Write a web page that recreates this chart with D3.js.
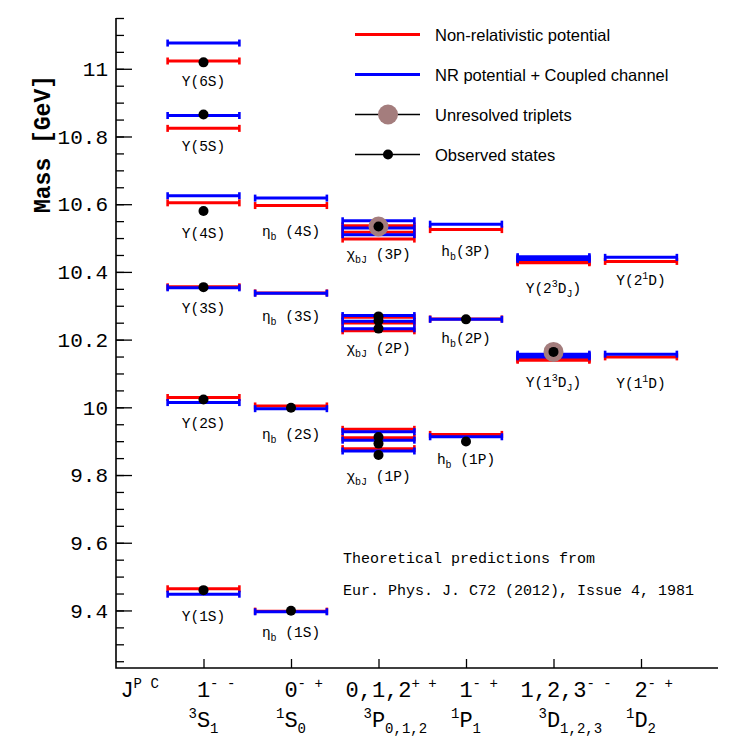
<!DOCTYPE html>
<html>
<head>
<meta charset="utf-8">
<script src="https://cdn.jsdelivr.net/npm/d3@7"></script>
<style>
  body { margin: 0; background: #fff; }
  svg text { white-space: pre; }
</style>
</head>
<body>
<script>
// bottomonium levels, masses in GeV
var stateNames = ["Υ(6S)", "Υ(5S)", "Υ(4S)", "Υ(3S)", "Υ(2S)", "Υ(1S)",
    "η_{b} (4S)", "η_{b} (3S)", "η_{b} (2S)", "η_{b} (1S)",
    "χ_{bJ} (3P)", "χ_{bJ} (2P)", "χ_{bJ} (1P)",
    "h_{b}(3P)", "h_{b}(2P)", "h_{b} (1P)",
    "Υ(2^{3}D_{J})", "Υ(2^{1}D)", "Υ(1^{3}D_{J})", "Υ(1^{1}D)"];
var stateColumn = [1, 1, 1, 1, 1, 1, 2, 2, 2, 2, 3, 3, 3, 4, 4, 4, 5, 6, 5, 6];

// Non-relativistic potential
var nrMass = [[11.023], [10.824], [10.604], [10.356], [10.029], [9.464],
    [10.596], [10.338], [10.004], [9.398],
    [10.497, 10.517, 10.536], [10.226, 10.249, 10.266], [9.878, 9.910, 9.935],
    [10.525], [10.261], [9.920],
    [10.427, 10.429, 10.432], [10.431], [10.139, 10.142, 10.145], [10.149]];
// NR potential + coupled channel
var ccMass = [[11.076], [10.862], [10.625], [10.353], [10.014], [9.448],
    [10.618], [10.337], [9.996], [9.396],
    [10.510, 10.530, 10.551], [10.232, 10.254, 10.271], [9.871, 9.903, 9.928],
    [10.541], [10.260], [9.913],
    [10.437, 10.441, 10.445], [10.443], [10.149, 10.153, 10.157], [10.157]];
// observed states
var obsMass = [[11.019], [10.865], [10.580], [10.355], [10.023], [9.460],
    [], [], [9.999], [9.399],
    [10.534], [10.2325, 10.2555, 10.2686], [9.8594, 9.8928, 9.9122],
    [], [10.2598], [9.899],
    [], [], [10.1637], []];
// unresolved triplets
var unresolvedMass = [null, null, null, null, null, null, null, null, null, null,
    10.534, null, null, null, null, null, null, null, 10.1637, null];
// where the state name sits (GeV)
var labelMass = [10.962, 10.769, 10.512, 10.290, 9.950, 9.382,
    10.518, 10.266, 9.917, 9.334,
    10.450, 10.172, 9.793,
    10.459, 10.201, 9.843,
    10.349, 10.373, 10.071, 10.068];

var jpcBase = ["J", "1", "0", "0,1,2", "1", "1,2,3", "2"];
var jpcSup = ["P C", "- -", "- +", "+ +", "- +", "- -", "- +"];
var waveSup = ["3", "1", "3", "1", "3", "1"];
var waveBase = ["S", "S", "P", "P", "D", "D"];
var waveSub = ["1", "0", "0,1,2", "1", "1,2,3", "2"];

var yMajor = [9.4, 9.6, 9.8, 10, 10.2, 10.4, 10.6, 10.8, 11];

var legendText = ["Non-relativistic potential", "NR potential + Coupled channel",
    "Unresolved triplets", "Observed states"];

var W = 734, H = 739;
var margin = {top: 18, right: 16, bottom: 71, left: 116};
var width = W - margin.left - margin.right,
    height = H - margin.top - margin.bottom;

var mono = "'Liberation Mono', 'DejaVu Sans Mono', monospace";
var sans = "'Liberation Sans', Arial, sans-serif";

var svg = d3.select("body").append("svg")
    .attr("width", W)
    .attr("height", H);
svg.append("rect").attr("width", W).attr("height", H).attr("fill", "#fff");

var g = svg.append("g")
    .attr("transform", "translate(" + margin.left + "," + margin.top + ")");

var x = d3.scaleLinear().domain([0, 6.88]).range([0, width]);
var y = d3.scaleLinear().domain([9.23, 11.15]).range([height, 0]);

// text with ^{} and _{} like ROOT's TLatex
function rich(sel, str, size, small, up, down) {
    var re = /([\^_])\{([^}]*)\}|([^\^_]+)/g, m, cur = 0;
    while ((m = re.exec(str)) !== null) {
        var t = 0, txt = m[3], fs = size;
        if (m[1]) {
            t = m[1] == "^" ? -up : down;
            txt = m[2];
            fs = small;
        }
        sel.append("tspan")
            .attr("dy", t - cur)
            .attr("font-size", fs)
            .text(txt);
        cur = t;
    }
    return sel;
}

// minor ticks
var minor = d3.range(9.25, 11.16, 0.05).map(function (d) { return +d.toFixed(2); });
g.append("g")
    .call(d3.axisLeft(y).tickValues(minor).tickSize(-8).tickFormat(""))
    .call(function (a) { a.select(".domain").remove(); })
    .selectAll("line").attr("stroke-width", 1.3);

g.append("g")
    .call(d3.axisLeft(y).tickValues(yMajor).tickSize(-16).tickPadding(8)
        .tickFormat(function (d) { return +d.toFixed(1) + ""; }))
    .call(function (a) { a.select(".domain").remove(); })
    .call(function (a) {
        a.selectAll("line").attr("stroke-width", 1.3);
        a.selectAll("text")
            .attr("font-family", mono)
            .attr("font-size", 21)
            .attr("fill", "#000");
    });

g.append("g")
    .attr("transform", "translate(0," + height + ")")
    .call(d3.axisBottom(x).tickValues([1, 2, 3, 4, 5, 6]).tickSize(-9).tickFormat(""))
    .call(function (a) { a.select(".domain").remove(); })
    .selectAll("line").attr("stroke-width", 1.3);

// axis lines, left and bottom only
g.append("path")
    .attr("d", "M0,0V" + height + "H" + width)
    .attr("fill", "none")
    .attr("stroke", "#000")
    .attr("stroke-width", 1.6);

// x labels: J^PC row and spectroscopic row
var big = 22, sm = 14, cw = 0.6;
jpcBase.forEach(function (b, i) {
    var cx = i == 0 ? x(0) + 11 : x(i);
    var t = g.append("text")
        .attr("x", cx - b.length * big * cw / 2)
        .attr("y", height + 29)
        .attr("font-family", mono)
        .attr("fill", "#000");
    rich(t, b + "^{" + jpcSup[i] + "}", big, sm, 9, 0);
});
waveBase.forEach(function (b, i) {
    var t = g.append("text")
        .attr("x", x(i + 1) - waveSup[i].length * sm * cw - big * cw / 2)
        .attr("y", height + 59)
        .attr("font-family", mono)
        .attr("fill", "#000");
    rich(t, "^{" + waveSup[i] + "}" + b + "_{" + waveSub[i] + "}", big, sm, 9, 6);
});

// y title
svg.append("text")
    .attr("transform", "translate(50,75) rotate(-90)")
    .attr("text-anchor", "end")
    .attr("font-family", mono)
    .attr("font-weight", "bold")
    .attr("font-size", 23)
    .attr("fill", "#000")
    .text("Mass [GeV]");

var half = 0.41;
function drawLevels(masses, color) {
    masses.forEach(function (list, i) {
        var c = stateColumn[i];
        list.forEach(function (mv) {
            var lg = g.append("g");
            lg.append("line")
                .attr("x1", x(c - half)).attr("x2", x(c + half))
                .attr("y1", y(mv)).attr("y2", y(mv))
                .attr("stroke", color)
                .attr("stroke-width", 3);
            [c - half, c + half].forEach(function (e) {
                lg.append("rect")
                    .attr("x", x(e) - 1.3)
                    .attr("y", y(mv) - 3.5)
                    .attr("width", 2.6)
                    .attr("height", 7)
                    .attr("fill", color);
            });
        });
    });
}
drawLevels(nrMass, "#ff0000");
drawLevels(ccMass, "#0000ff");

unresolvedMass.forEach(function (mv, i) {
    if (mv === null) return;
    g.append("circle")
        .attr("cx", x(stateColumn[i]))
        .attr("cy", y(mv))
        .attr("r", 10)
        .attr("fill", "#a47d7d");
});

obsMass.forEach(function (list, i) {
    list.forEach(function (mv) {
        g.append("circle")
            .attr("cx", x(stateColumn[i]))
            .attr("cy", y(mv))
            .attr("r", 5)
            .attr("fill", "#000");
    });
});

stateNames.forEach(function (s, i) {
    var t = g.append("text")
        .attr("x", x(stateColumn[i]))
        .attr("y", y(labelMass[i]) + 4)
        .attr("text-anchor", "middle")
        .attr("font-family", mono)
        .attr("fill", "#000");
    rich(t, s, 14.5, 10, 6, 4);
});

// note
g.append("text")
    .attr("x", 343 - margin.left).attr("y", 563 - margin.top)
    .attr("font-family", mono).attr("font-size", 15)
    .text("Theoretical predictions from");
g.append("text")
    .attr("x", 343 - margin.left).attr("y", 595 - margin.top)
    .attr("font-family", mono).attr("font-size", 15)
    .text("Eur. Phys. J. C72 (2012), Issue 4, 1981");

// legend
var leg = svg.append("g").attr("transform", "translate(355,34)");
legendText.forEach(function (txt, i) {
    var row = leg.append("g").attr("transform", "translate(0," + (i * 40 + 0.5) + ")");
    if (i < 2) {
        row.append("line").attr("x1", 0).attr("x2", 65)
            .attr("stroke", i == 0 ? "#ff0000" : "#0000ff").attr("stroke-width", 3);
    } else {
        row.append("line").attr("x1", 0).attr("x2", 65)
            .attr("stroke", "#000").attr("stroke-width", 1.5);
        row.append("circle").attr("cx", 33)
            .attr("r", i == 2 ? 10 : 5)
            .attr("fill", i == 2 ? "#a47d7d" : "#000");
    }
    row.append("text")
        .attr("x", 80).attr("y", 6)
        .attr("font-family", sans).attr("font-size", 16.5)
        .attr("fill", "#000")
        .text(txt);
});
</script>
</body>
</html>
